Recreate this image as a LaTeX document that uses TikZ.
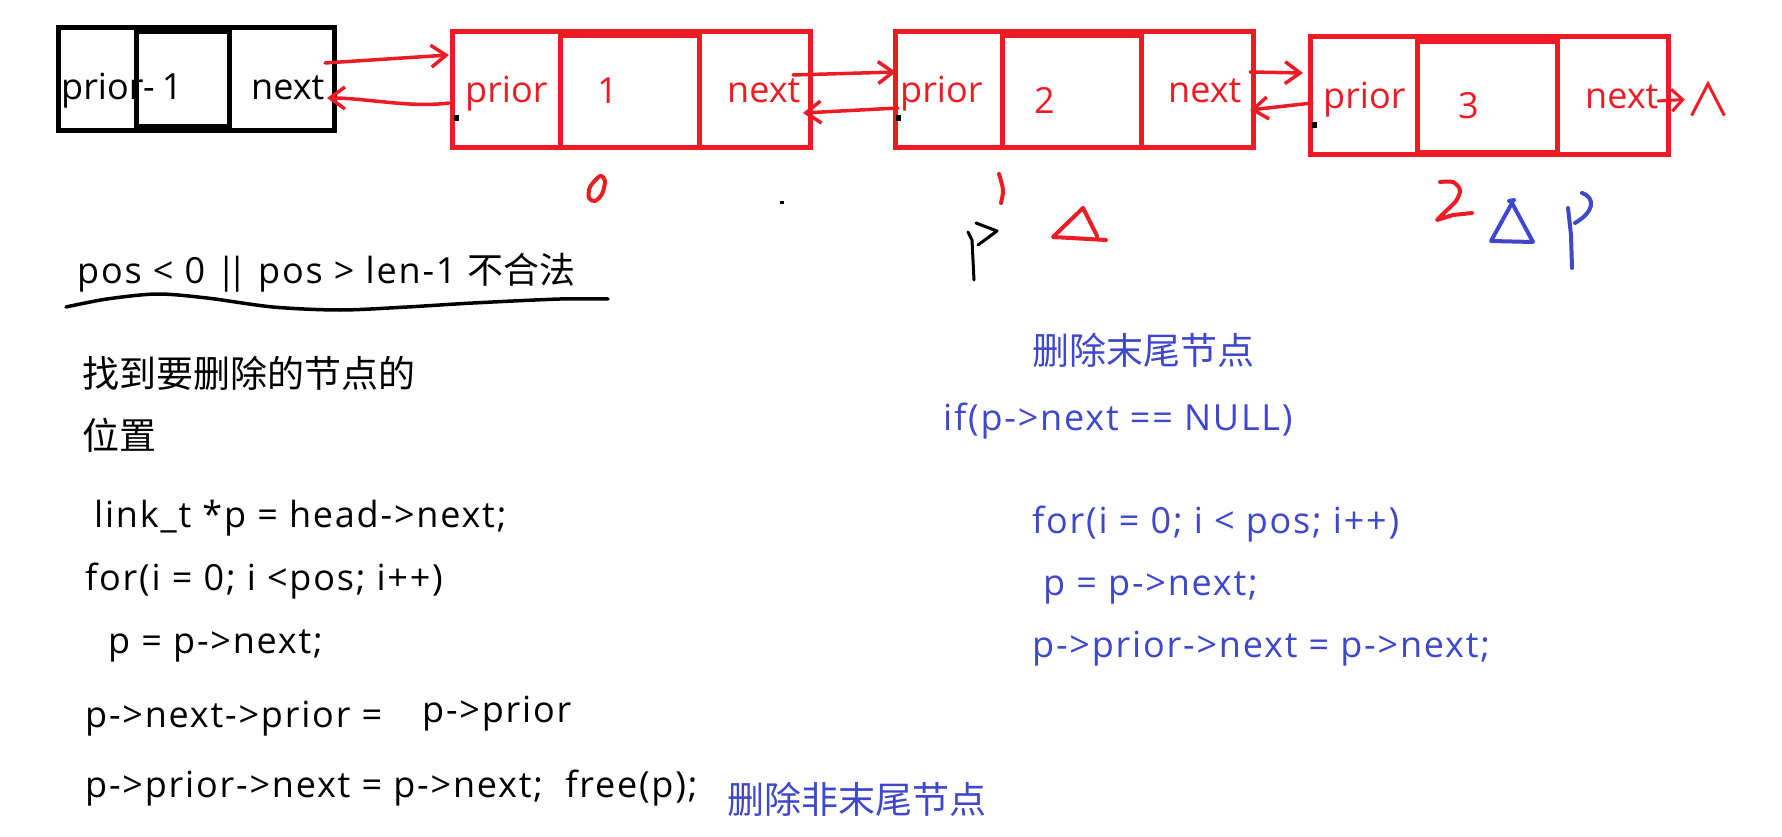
\documentclass[tikz,border=0pt]{standalone}
\usepackage{fontspec}
\setmainfont{Open Sans}
\newfontfamily\codefont[LetterSpace=5]{Open Sans}
\newfontfamily\cjk{Noto Sans CJK SC}
\usetikzlibrary{positioning,calc,arrows.meta}
\definecolor{inkred}{RGB}{237,28,36}
\definecolor{inkblue}{RGB}{63,72,204}

\begin{document}
\begin{tikzpicture}[x=1pt,y=-1pt,
  cell/.style={draw,rectangle,line width=5pt,outer sep=0pt,inner sep=0pt,minimum height=#1},
  txt/.style={anchor=base west,inner sep=0pt,font=\fontsize{36}{43}\selectfont},
  code/.style={txt,font=\fontsize{36}{43}\selectfont\codefont},
  hanzi/.style={txt,font=\fontsize{37}{44}\selectfont\cjk},
  link/.style={inkred,line width=3.5pt,line cap=round,-{Straight Barb[length=15pt,width=22pt]}},
  ink/.style={line width=4pt,line cap=round,line join=round}]

\fill[white] (0,0) rectangle (1782,837);

% head node
\node[cell=103pt,minimum width=78pt,anchor=north west] (head-p) at (58,28) {};
\node[cell=103pt,minimum width=93pt,right=0pt of head-p] (head-d) {};
\node[cell=103pt,minimum width=105pt,right=0pt of head-d] (head-n) {};
\draw[line width=9pt] ([yshift=-2pt]head-d.north west) -- ([yshift=-2pt]head-d.north east);
\draw[line width=9pt] ([yshift=2pt]head-d.south west) -- ([yshift=2pt]head-d.south east);
\node[txt] (t-head-p) at (61,100) {prior};
\node[txt] (t-head-d) at (143,100) {-\kern7pt 1};
\node[txt] (t-head-n) at (251,100) {next};

% nodes 1, 2, 3
\begin{scope}[inkred]
\node[cell=116pt,minimum width=108pt,anchor=north west] (n1-p) at (452,32) {};
\node[cell=116pt,minimum width=139pt,right=0pt of n1-p] (n1-d) {};
\node[cell=116pt,minimum width=111pt,right=0pt of n1-d] (n1-n) {};
\draw[line width=8pt] ([yshift=-2pt]n1-d.north west) -- ([yshift=-2pt]n1-d.north east);

\node[cell=116pt,minimum width=107pt,anchor=north west] (n2-p) at (895,32) {};
\node[cell=116pt,minimum width=139pt,right=0pt of n2-p] (n2-d) {};
\node[cell=116pt,minimum width=112pt,right=0pt of n2-d] (n2-n) {};
\draw[line width=8pt] ([yshift=-2pt]n2-d.north west) -- ([yshift=-2pt]n2-d.north east);

\node[cell=118pt,minimum width=107pt,anchor=north west] (n3-p) at (1310,37) {};
\node[cell=118pt,minimum width=140pt,right=0pt of n3-p] (n3-d) {};
\node[cell=118pt,minimum width=111pt,right=0pt of n3-d] (n3-n) {};
\draw[line width=9pt] ([yshift=-2.5pt]n3-d.north west) -- ([yshift=-2.5pt]n3-d.north east);
\draw[line width=7pt] ([yshift=1pt]n3-d.south west) -- ([yshift=1pt]n3-d.south east);

\node[txt] (t-n1-p) at (465,103) {prior};
\node[txt] (t-n1-d) at (597,104) {1};
\node[txt] (t-n1-n) at (727,103) {next};
\node[txt] (t-n2-p) at (900,103) {prior};
\node[txt] (t-n2-d) at (1034,114) {2};
\node[txt] (t-n2-n) at (1168,103) {next};
\node[txt] (t-n3-p) at (1323,109) {prior};
\node[txt] (t-n3-d) at (1458,119) {3};
\node[txt] (t-n3-n) at (1585,109) {next};
\node[anchor=base,inner sep=0pt,font=\fontsize{46}{50}\selectfont\cjk] (nul) at (1708,117) {∧};
\end{scope}

% links
\draw[link] ($(head-n.east)+(-9,-16.5)$) -- ($(n1-p.west)+(-3,-35)$);
\draw[link] ($(n1-p.west)+(-3,13)$) .. controls +(-40,5) and +(40,0) .. ($(head-n.east)+(-7,18.5)$);
\draw[link] ($(n1-n.east)+(-17,-15)$) -- ($(n2-p.west)+(1,-18)$);
\draw[link] ($(n2-p.west)+(3,18)$) -- ($(n1-n.east)+(-7,23)$);
\draw[link] ($(n2-n.east)+(-3,-18)$) -- ($(n3-p.west)+(-7,-23)$);
\draw[link] ($(n3-p.west)+(2,7)$) -- ($(n2-n.east)+(-3,20)$);
\draw[link,line width=3pt,-{Straight Barb[length=11pt,width=22pt]}] ($(n3-n.east)+(-10,5)$) -- (nul.west);

% stray dots
\fill (454,115) rectangle +(5,6);
\fill (896,115) rectangle +(5,6);
\fill (1312,122) rectangle +(5,6);
\fill (780,201) rectangle +(4,3);

% hand marks
\draw[ink,inkred] plot[smooth cycle] coordinates {(600,176) (605,181) (602,194) (595,201) (589,198) (590,187)};
\draw[ink,inkred] plot[smooth] coordinates {(999,174) (1003,190) (1001,203)};
\draw[ink,inkred] plot[smooth] coordinates {(1440,182) (1453,182) (1460,190) (1456,201) (1445,212) (1437,220)} -- (1453,215) -- (1472,213);
\draw[ink,line width=3pt] (968,232) -- (972,240) -- (974,280);
\draw[ink,line width=3pt] (976,223) -- (997,231) -- (978,245);
\draw[ink,inkred] (1083,208) -- (1053,237) -- (1106,240) (1083,208) -- (1097,236);
\draw[ink,inkblue] (1512,203) -- (1491,241) -- (1533,242) -- cycle (1509,201) -- (1514,200);
\draw[ink,inkblue] (1568,208) -- (1571,235) -- (1572,268);
\draw[ink,inkblue] (1582,193) .. controls (1596,198) and (1594,212) .. (1575,223);

% left column
\node[code] (cond) at (77,283) {pos < 0 |\kern-9pt| pos > len-1 {\cjk 不合法}};
\draw[line width=3.5pt,line cap=round] plot[smooth] coordinates {(66,307) (107,299) (157,294) (207,298) (273,307) (340,310) (407,307) (473,303) (560,299) (608,299)};
\node[hanzi] (find1) at (82,387) {找到要删除的节点的};
\node[hanzi] (find2) at (82,449) {位置};
\node[code] (l1) at (94,527) {link\_t *p = head->next;};
\node[code] (l2) at (85,590) {for(i = 0; i <pos; i++)};
\node[code] (l3) at (108,653) {p = p->next;};
\node[code] (l4) at (85,727) {p->next->prior =};
\node[code] (l4b) at (422,722) {p->prior};
\node[code] (l5) at (85,797) {p->prior->next = p->next;\ \ free(p);};
\node[hanzi,inkblue] (mid) at (727,813) {删除非末尾节点};

% right column
\begin{scope}[inkblue]
\node[hanzi] (tail) at (1032,364) {删除末尾节点};
\node[code] (r1) at (943,430) {if(p->next == NULL)};
\node[code] (r2) at (1032,533) {for(i = 0; i < pos; i++)};
\node[code] (r3) at (1043,595) {p = p->next;};
\node[code] (r4) at (1032,657) {p->prior->next = p->next;};
\end{scope}

\end{tikzpicture}
\end{document}
